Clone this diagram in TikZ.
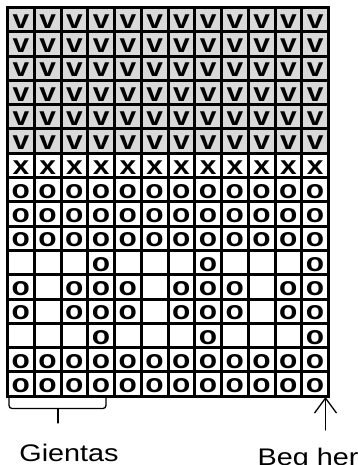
\documentclass[tikz,border=0pt]{standalone}
\usepackage{graphicx}
\usepackage{fontspec}
\setmainfont{Liberation Sans}
\usetikzlibrary{arrows.meta}
\definecolor{cellgray}{RGB}{217,217,217}
\newcommand{\widecell}[1]{\scalebox{1.15}[1]{\fontsize{26}{28}\selectfont\bfseries #1}}
\newcommand{\widelabel}[1]{\scalebox{1.2}[1]{\fontsize{24}{27}\selectfont #1}}
\tikzset{
  cellbox/.style={draw=black, line width=3pt, minimum width=26.75pt, minimum height=24.3pt, inner sep=0pt, outer sep=0pt},
  shaded/.style={fill=cellgray},
  letter/.style={inner sep=0pt, anchor=base},
  labeltext/.style={inner sep=0pt, anchor=base},
  thinline/.style={line width=1.3pt, line cap=round, line join=round}
}
\begin{document}
\begin{tikzpicture}[x=1pt,y=1pt]
\useasboundingbox (0,0) rectangle (358,465);
\foreach [count=\r] \row in {
  {v,v,v,v,v,v,v,v,v,v,v,v},
  {v,v,v,v,v,v,v,v,v,v,v,v},
  {v,v,v,v,v,v,v,v,v,v,v,v},
  {v,v,v,v,v,v,v,v,v,v,v,v},
  {v,v,v,v,v,v,v,v,v,v,v,v},
  {v,v,v,v,v,v,v,v,v,v,v,v},
  {x,x,x,x,x,x,x,x,x,x,x,x},
  {o,o,o,o,o,o,o,o,o,o,o,o},
  {o,o,o,o,o,o,o,o,o,o,o,o},
  {o,o,o,o,o,o,o,o,o,o,o,o},
  {-,-,-,o,-,-,-,o,-,-,-,o},
  {o,-,o,o,o,-,o,o,o,-,o,o},
  {o,-,o,o,o,-,o,o,o,-,o,o},
  {-,-,-,o,-,-,-,o,-,-,-,o},
  {o,o,o,o,o,o,o,o,o,o,o,o},
  {o,o,o,o,o,o,o,o,o,o,o,o}}{
  \foreach [count=\c] \s in \row {
    \ifnum\r<7
      \node[cellbox, shaded] (cell-\r-\c) at ({7.5+(\c-0.5)*26.75},{457.5-(\r-0.5)*24.3}) {};
    \else
      \node[cellbox] (cell-\r-\c) at ({7.5+(\c-0.5)*26.75},{457.5-(\r-0.5)*24.3}) {};
    \fi
    \if\s-\else
      \node[letter] (t-\r-\c) at ([yshift=3.5pt]cell-\r-\c.south) {\widecell{\s}};
    \fi
  }
}
% brace under the first four columns
\coordinate (bl) at (9,68);
\coordinate (blc) at (9,56.5);
\coordinate (bm) at (58,56.5);
\coordinate (btip) at (58,42);
\coordinate (brc) at (106,56.5);
\coordinate (br) at (106,68);
\draw[thinline, rounded corners=3pt] (bl) -- (blc) -- (bm) -- (brc) -- (br);
\draw[thinline] (bm) -- (btip);
% arrow
\coordinate (abot) at (325.5,35);
\coordinate (atop) at (325.5,68);
\draw[thinline, -{Straight Barb[length=15pt,width=22pt,line width=1.3pt]}] (abot) -- (atop);
% labels
\node[labeltext] (gientas) at (69,3.5) {\widelabel{Gientas}};
\node[labeltext] (beg) at (308,-1) {\widelabel{Beg her}};
\end{tikzpicture}
\end{document}
